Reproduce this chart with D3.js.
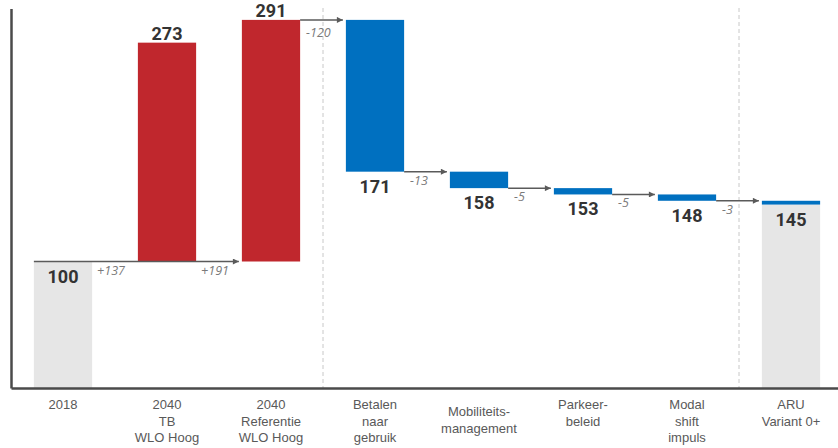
<!DOCTYPE html>
<html>
<head>
<meta charset="utf-8">
<script src="https://cdn.jsdelivr.net/npm/d3@7"></script>
<style>
  html, body { margin: 0; padding: 0; background: #fff; }
  svg { display: block; font-family: "Open Sans", "Noto Sans", sans-serif; }
</style>
</head>
<body>
<svg id="chart" width="838" height="448"></svg>
<script>
// Waterfall: car-km index 2018 -> 2040 reference -> measures -> ARU Variant 0+
const categories = [
  ["2018"],
  ["2040", "TB", "WLO Hoog"],
  ["2040", "Referentie", "WLO Hoog"],
  ["Betalen", "naar", "gebruik"],
  ["Mobiliteits-", "management"],
  ["Parkeer-", "beleid"],
  ["Modal", "shift", "impuls"],
  ["ARU", "Variant 0+"]
];
const keys = categories.map(d => d.join(" "));
// bar end values (labelled)
const values = [100, 273, 291, 171, 158, 153, 148, 145];
// bar start values
const starts = [0, 100, 100, 291, 171, 158, 153, 148];
// bar type: total / increase / decrease / final
const kinds = ["total", "increase", "increase", "decrease", "decrease", "decrease", "decrease", "final"];
// step annotations
const deltaLabels = ["+137", "+191", "-120", "-13", "-5", "-5", "-3"];

const colors = { total: "#e6e6e6", increase: "#c0272d", decrease: "#0070c0", final: "#e6e6e6" };

const svg = d3.select("#chart");
const baseY = 388;

const x = d3.scaleBand().domain(keys).range([11, 843]).paddingInner(0.44).paddingOuter(0.22);
const y = d3.scaleLinear().domain([0, 300]).range([baseY, 8.5]);

// separators between phases
const sepX = [(x(keys[2]) + x.bandwidth() + x(keys[3])) / 2, (x(keys[6]) + x.bandwidth() + x(keys[7])) / 2];
svg.selectAll("line.sep").data(sepX).join("line")
  .attr("class", "sep")
  .attr("x1", d => d).attr("x2", d => d)
  .attr("y1", 8).attr("y2", baseY)
  .attr("stroke", "#c8c8c8").attr("stroke-width", 1).attr("stroke-dasharray", "4,3");

// bars
const bars = keys.map((k, i) => ({ k, i, v: values[i], s: starts[i], kind: kinds[i] }));
svg.selectAll("rect.bar").data(bars).join("rect")
  .attr("class", "bar")
  .attr("x", d => x(d.k))
  .attr("width", x.bandwidth())
  .attr("y", d => d.kind === "final" ? y(d.v) : y(Math.max(d.s, d.v)))
  .attr("height", d => d.kind === "final" ? y(0) - y(d.v) : Math.abs(y(d.s) - y(d.v)))
  .attr("fill", d => colors[d.kind]);

// final bar: blue cap for last step
const last = bars[bars.length - 1];
svg.append("rect")
  .attr("x", x(last.k)).attr("width", x.bandwidth())
  .attr("y", y(last.s)).attr("height", y(last.v) - y(last.s))
  .attr("fill", colors.decrease);

// arrow marker
svg.append("defs").append("marker")
  .attr("id", "arrow")
  .attr("viewBox", "0 0 10 10")
  .attr("refX", 10).attr("refY", 5)
  .attr("markerWidth", 7).attr("markerHeight", 6)
  .attr("markerUnits", "userSpaceOnUse")
  .attr("orient", "auto")
  .append("path").attr("d", "M0,0L10,5L0,10Z").attr("fill", "#5a5a5a");

// connector arrows
const arrows = [
  { x1: x(keys[0]), x2: x(keys[2]) - 3, v: values[0] }
];
for (let i = 2; i < keys.length - 1; i++) {
  arrows.push({ x1: x(keys[i]) + x.bandwidth(), x2: x(keys[i + 1]) - 3, v: values[i] });
}
svg.selectAll("line.conn").data(arrows).join("line")
  .attr("class", "conn")
  .attr("x1", d => d.x1).attr("x2", d => d.x2)
  .attr("y1", d => y(d.v)).attr("y2", d => y(d.v))
  .attr("stroke", "#5a5a5a").attr("stroke-width", 1.5)
  .attr("marker-end", "url(#arrow)");

// step annotations (right of each preceding bar, under its arrow)
const deltaPos = deltaLabels.map((t, i) => {
  const lvl = i < 2 ? values[0] : values[i];
  return { t, xx: x(keys[i]) + x.bandwidth() + (i < 2 ? 5 : 6), yy: y(lvl) + (i === 2 ? 17 : 13) };
});
svg.selectAll("text.delta").data(deltaPos).join("text")
  .attr("class", "delta")
  .attr("x", d => d.xx).attr("y", d => d.yy)
  .attr("font-size", 12.5).attr("font-style", "italic")
  .attr("fill", "#7a7a7a")
  .text(d => d.t);

// value labels: above rising bars, below others
svg.selectAll("text.val").data(bars).join("text")
  .attr("class", "val")
  .attr("x", d => x(d.k) + x.bandwidth() / 2)
  .attr("y", d => d.kind === "increase" ? y(d.v) - 3 : y(d.v) + 21)
  .attr("text-anchor", "middle")
  .attr("font-family", "Roboto, 'Open Sans', sans-serif")
  .attr("font-size", 18).attr("font-weight", 700)
  .attr("fill", "#333")
  .text(d => d.v);

// axes
const axisColor = "#4a4a4a";
const gx = svg.append("g").attr("transform", `translate(0,${baseY})`)
  .call(d3.axisBottom(x).tickSize(0).tickSizeOuter(0).tickFormat(""));
gx.select(".domain").attr("stroke", axisColor).attr("stroke-width", 2.5);
gx.selectAll(".tick text").remove();
gx.selectAll(".tick").each(function (k, i) {
  const lines = categories[i];
  const shift = lines.length === 2 && lines[0].endsWith("-") && lines[1].length > 8 ? 7 : 0;
  const t = d3.select(this).append("text")
    .attr("text-anchor", "middle")
    .attr("fill", "#595959")
    .attr("font-size", 13)
    .attr("y", 21 + shift);
  lines.forEach((ln, j) => {
    t.append("tspan").attr("x", 0).attr("dy", j === 0 ? 0 : 16.5).text(ln);
  });
});

const gy = svg.append("g").attr("transform", "translate(11,0)")
  .call(d3.axisLeft(y).tickValues([]).tickSizeOuter(0));
gy.select(".domain").attr("stroke", axisColor).attr("stroke-width", 2.5);
</script>
</body>
</html>
